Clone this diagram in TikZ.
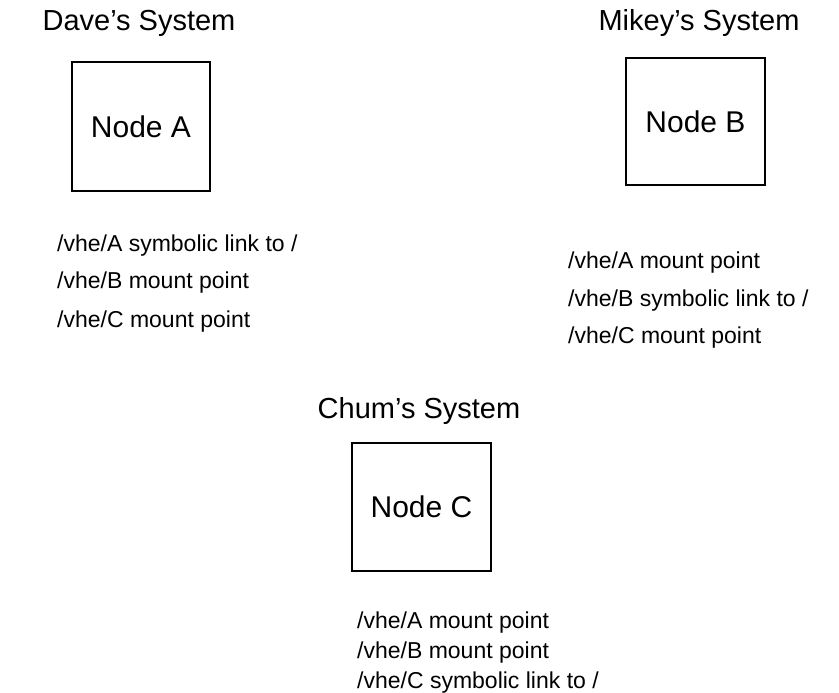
\documentclass[tikz,border=0pt]{standalone}
\usepackage{fontspec}
\setmainfont{Liberation Sans}
\begin{document}
\begin{tikzpicture}[x=1pt,y=-1pt,
  systitle/.style={font=\fontsize{29}{33}\selectfont, anchor=base, inner sep=0pt},
  hostbox/.style={draw, line width=1.1pt, inner sep=0pt,
    font=\fontsize{30}{34}\selectfont},
  pathlabel/.style={anchor=base west, inner sep=0pt,
    font=\fontsize{23}{27}\selectfont}]
\useasboundingbox (0,0) rectangle (839,693);

% Dave's system
\node[hostbox, minimum width=138pt, minimum height=129pt] (boxA) at (141,126.5) {Node A};
\node[systitle] (titleA) at (139,31) {Dave’s System};
\node[pathlabel] (a1) at (57,251) {/vhe/A symbolic link to /};
\node[pathlabel] (a2) at (57,288) {/vhe/B mount point};
\node[pathlabel] (a3) at (57,327) {/vhe/C mount point};

% Mikey's system
\node[hostbox, minimum width=139pt, minimum height=127pt] (boxB) at (695.5,121.5) {Node B};
\node[systitle] (titleB) at (699,31) {Mikey’s System};
\node[pathlabel] (b1) at (568,268) {/vhe/A mount point};
\node[pathlabel] (b2) at (568,306) {/vhe/B symbolic link to /};
\node[pathlabel] (b3) at (568,343) {/vhe/C mount point};

% Chum's system
\node[hostbox, minimum width=139pt, minimum height=128pt] (boxC) at (421.5,507) {Node C};
\node[systitle] (titleC) at (419,418) {Chum’s System};
\node[pathlabel] (c1) at (357,628) {/vhe/A mount point};
\node[pathlabel] (c2) at (357,658) {/vhe/B mount point};
\node[pathlabel] (c3) at (357,688) {/vhe/C symbolic link to /};
\end{tikzpicture}
\end{document}
